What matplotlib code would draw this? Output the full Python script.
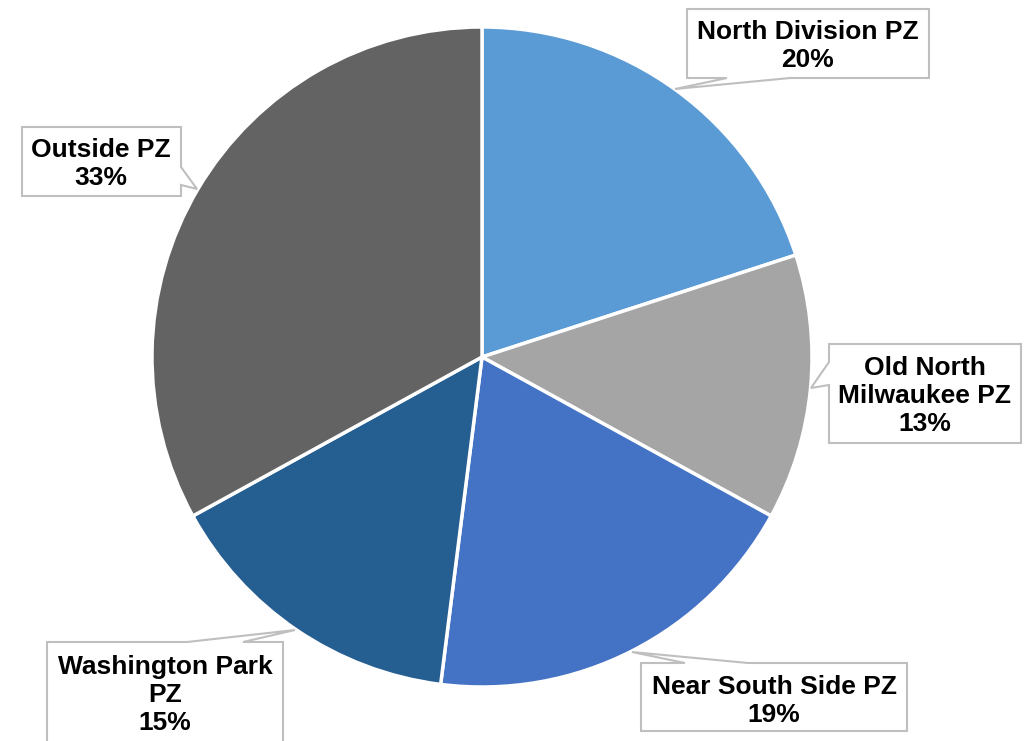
import matplotlib.pyplot as plt
from matplotlib.patches import Polygon

plt.rcParams['font.family'] = ['Liberation Sans', 'DejaVu Sans']

zones = ['North Division PZ', 'Old North\nMilwaukee PZ', 'Near South Side PZ',
         'Washington Park\nPZ', 'Outside PZ']
shares = [20, 13, 19, 15, 33]
colors = ['#5B9BD5', '#A5A5A5', '#4472C4', '#255E91', '#636363']

fig = plt.figure(figsize=(10.28, 7.41), dpi=100)
ax = fig.add_axes([0, 0, 1, 1])

# pixel-like coordinates, y grows downward
ax.pie(shares, colors=colors, center=(482, 357), radius=330,
       startangle=-90, counterclock=True,
       wedgeprops=dict(edgecolor='white', linewidth=2.5))
ax.set_xlim(0, 1028)
ax.set_ylim(741, 0)
ax.set_aspect('equal')
ax.axis('off')

# callout outlines: box with pointer notch (vertices in order)
callouts = [
    [(687, 9), (929, 9), (929, 78), (790, 78), (675, 89), (727, 78), (687, 78)],
    [(829, 344), (1021, 344), (1021, 443), (829, 443), (829, 385), (811, 388), (829, 362)],
    [(641, 663), (685, 663), (632, 652), (748, 663), (907, 663), (907, 731), (641, 731)],
    [(47, 642), (187, 642), (295, 630), (243, 642), (283, 642), (283, 760), (47, 760)],
    [(22, 127), (181, 127), (181, 167), (197, 189), (181, 185), (181, 196), (22, 196)],
]
text_pos = [(808, 46), (925, 396), (774, 701), (165, 695), (101, 164)]

for verts, (tx, ty), name, s in zip(callouts, text_pos, zones, shares):
    ax.add_patch(Polygon(verts, closed=True, facecolor='white',
                         edgecolor='#BFBFBF', linewidth=1.5, zorder=3))
    ax.text(tx, ty, f'{name}\n{s}%', ha='center', va='center',
            fontsize=19, fontweight='bold', linespacing=1.2, zorder=4)

fig.savefig('out.png', dpi=100)
